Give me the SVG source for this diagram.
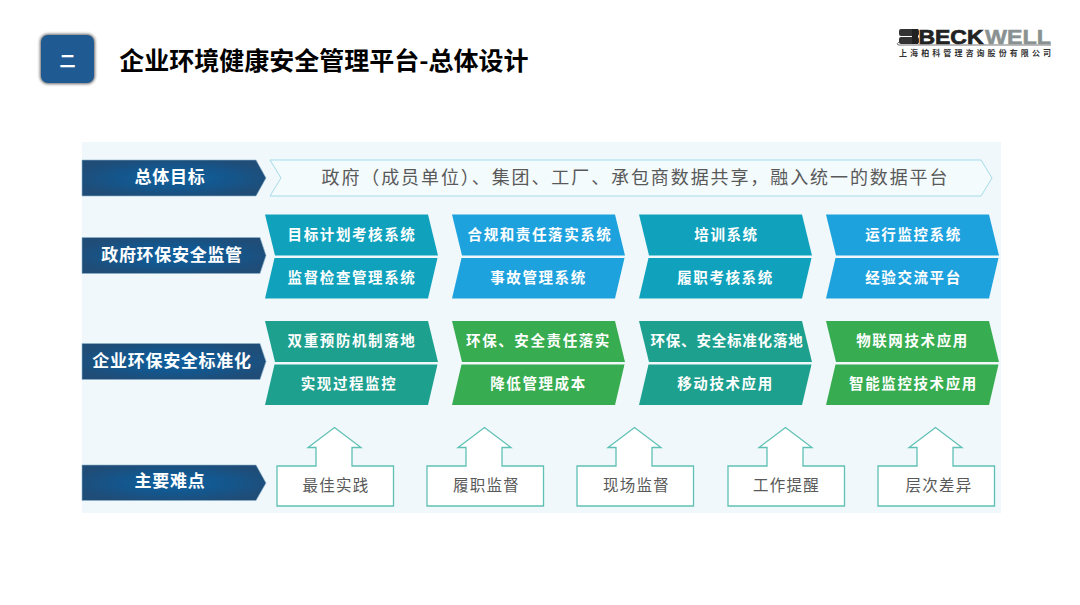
<svg xmlns="http://www.w3.org/2000/svg" width="1080" height="605" viewBox="0 0 1080 605">
<defs>
<radialGradient id="lab" cx="50%" cy="50%" r="55%"><stop offset="0" stop-color="#0f619f"/><stop offset="0.55" stop-color="#14568c"/><stop offset="1" stop-color="#1f4d78"/></radialGradient>
<filter id="sh" x="-20%" y="-20%" width="140%" height="140%"><feGaussianBlur stdDeviation="1.800"/></filter>
<path id="chevT" d="M0 0H163L173 41H10Z"/>
<path id="chevB" d="M9.500 0H172.500L163 40.500H0Z"/>
</defs>
<style>
text{font-family:"Noto Sans CJK SC","Liberation Sans",sans-serif;text-anchor:middle}
.lab{fill:url(#lab);stroke:#8fb4cb;stroke-width:.6}
.lt{fill:#fff;font-size:17px;font-weight:700;letter-spacing:.7px}
.ct{fill:#fff;font-size:14.500px;font-weight:700;letter-spacing:1.600px}
.box{fill:#fff;stroke:#5fc0b4;stroke-width:1.300}
.bt{fill:#595959;font-size:15.500px;letter-spacing:1.300px}
.s1{fill:#10a2bc}.s2{fill:#1ea2de}.s3{fill:#1ea08f}.s4{fill:#37ac50}
</style>
<rect width="1080" height="605" fill="#fff"/>
<rect id="panel" x="82" y="142" width="919" height="371" fill="#f0f8fb"/>

<g id="badge">
<rect x="40" y="34" width="55" height="50" rx="8" fill="#666" filter="url(#sh)"/>
<rect x="41" y="35" width="53" height="48" rx="7" fill="#1f5a92"/>
<text x="67.500" y="67" fill="#fff" font-size="16" font-weight="700">二</text>
</g>
<text id="title" x="324" y="70" fill="#000" font-size="25" font-weight="700">企业环境健康安全管理平台-总体设计</text>

<g id="logo">
<rect x="899" y="29" width="20" height="7" rx="2" fill="#333"/>
<rect x="899" y="37" width="20" height="7" rx="2" fill="#333"/>
<rect x="912" y="29" width="6" height="15" fill="#222"/>
<path d="M899 42Q896 44 898 45H1051" fill="none" stroke="#777" stroke-width="1"/>
<text x="951" y="44" font-size="20" font-weight="700" fill="#222" stroke="#222" stroke-width=".7" textLength="65" lengthAdjust="spacingAndGlyphs" style="font-family:'Liberation Sans',sans-serif">BECK</text>
<text x="1018" y="44" font-size="20" font-weight="700" fill="#8a9191" stroke="#8a9191" stroke-width=".5" textLength="66" lengthAdjust="spacingAndGlyphs" style="font-family:'Liberation Sans',sans-serif">WELL</text>
<text x="975" y="56" font-size="8" font-weight="700" fill="#333" textLength="152" lengthAdjust="spacing">上海柏科管理咨询股份有限公司</text>
</g>

<g id="goal">
<path class="lab" d="M82 160H256L266 178 256 196H82Z"/>
<text class="lt" x="170" y="183">总体目标</text>
</g>
<g id="goal-banner">
<path d="M270 160H981L992 178 981 196H270L281 178Z" fill="#f4fbfd" stroke="#a5dbe8" stroke-width="1"/>
<text x="634.500" y="183.500" fill="#595959" font-size="18" textLength="626" lengthAdjust="spacing">政府（成员单位）、集团、工厂、承包商数据共享，融入统一的数据平台</text>
</g>

<g id="gov">
<path class="lab" d="M82 237.500H260L266 255.500 260 273.500H82Z"/>
<text class="lt" x="172" y="261">政府环保安全监管</text>
</g>
<g id="ent">
<path class="lab" d="M82 343.500H260L266 361.500 260 379.500H82Z"/>
<text class="lt" x="172" y="366.500">企业环保安全标准化</text>
</g>
<g id="hard">
<path class="lab" d="M82 465H256L266 483 256 500.500H82Z"/>
<text class="lt" x="170" y="487">主要难点</text>
</g>

<g id="n11"><use href="#chevT" x="265" y="214.500" class="s1"/><text class="ct" x="352" y="240">目标计划考核系统</text></g>
<g id="n12"><use href="#chevB" x="265" y="258" class="s1"/><text class="ct" x="352" y="283">监督检查管理系统</text></g>
<g id="n13"><use href="#chevT" x="452" y="214.500" class="s2"/><text class="ct" x="540" y="240">合规和责任落实系统</text></g>
<g id="n14"><use href="#chevB" x="452" y="258" class="s2"/><text class="ct" x="538.500" y="283">事故管理系统</text></g>
<g id="n15"><use href="#chevT" x="639" y="214.500" class="s1"/><text class="ct" x="726.500" y="240">培训系统</text></g>
<g id="n16"><use href="#chevB" x="639" y="258" class="s1"/><text class="ct" x="725.500" y="283">履职考核系统</text></g>
<g id="n17"><use href="#chevT" x="826" y="214.500" class="s2"/><text class="ct" x="913.500" y="240">运行监控系统</text></g>
<g id="n18"><use href="#chevB" x="826" y="258" class="s2"/><text class="ct" x="913.500" y="283">经验交流平台</text></g>

<g id="n21"><use href="#chevT" x="265" y="321" class="s3"/><text class="ct" x="352" y="346">双重预防机制落地</text></g>
<g id="n22"><use href="#chevB" x="265" y="364.500" class="s3"/><text class="ct" x="349" y="389">实现过程监控</text></g>
<g id="n23"><use href="#chevT" x="452" y="321" class="s4"/><text class="ct" x="538.500" y="346">环保、安全责任落实</text></g>
<g id="n24"><use href="#chevB" x="452" y="364.500" class="s4"/><text class="ct" x="538.500" y="389">降低管理成本</text></g>
<g id="n25"><use href="#chevT" x="639" y="321" class="s3"/><text class="ct" x="727" y="346" style="letter-spacing:.8px">环保、安全标准化落地</text></g>
<g id="n26"><use href="#chevB" x="639" y="364.500" class="s3"/><text class="ct" x="725.500" y="389">移动技术应用</text></g>
<g id="n27"><use href="#chevT" x="826" y="321" class="s4"/><text class="ct" x="912.500" y="346">物联网技术应用</text></g>
<g id="n28"><use href="#chevB" x="826" y="364.500" class="s4"/><text class="ct" x="913.500" y="389">智能监控技术应用</text></g>

<g id="d1"><path class="box" d="M277 466H316V447.500H308L334.500 427.500 361 447.500H352V466H393.500V506H277Z"/><text class="bt" x="336" y="491">最佳实践</text></g>
<g id="d2"><path class="box" d="M427 466H466V447.500H458L484.500 427.500 511 447.500H502V466H543.500V506H427Z"/><text class="bt" x="486.500" y="491">履职监督</text></g>
<g id="d3"><path class="box" d="M577 466H616V447.500H608L634.500 427.500 661 447.500H652V466H693.500V506H577Z"/><text class="bt" x="636.500" y="491">现场监督</text></g>
<g id="d4"><path class="box" d="M728 466H767V447.500H759L785.500 427.500 812 447.500H803V466H844.500V506H728Z"/><text class="bt" x="786.500" y="491">工作提醒</text></g>
<g id="d5"><path class="box" d="M878 466H917V447.500H909L935.500 427.500 962 447.500H953V466H994.500V506H878Z"/><text class="bt" x="939" y="491">层次差异</text></g>
</svg>
